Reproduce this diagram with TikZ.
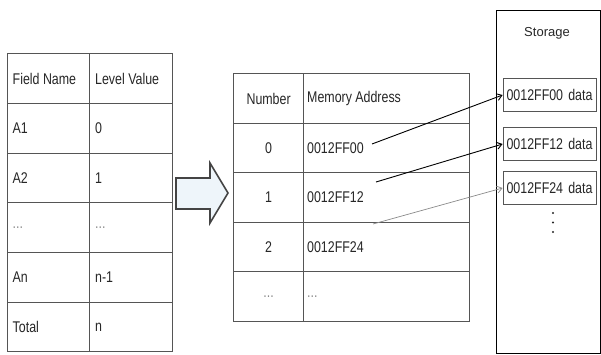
\documentclass[tikz,border=0pt]{standalone}
\usepackage{fontspec}
\setmainfont{Liberation Sans}[FakeStretch=0.8]
\newfontfamily\titlefont{Liberation Sans}
\usetikzlibrary{arrows.meta}
\definecolor{gridline}{HTML}{555555}
\definecolor{inktext}{HTML}{262626}
\definecolor{softtext}{HTML}{8A8A8A}
\definecolor{hollowfill}{HTML}{EEF5FA}
\tikzset{
  cell/.style={draw=gridline, line width=1.2pt, rectangle, inner sep=0pt, anchor=north west},
  txt/.style={font=\fontsize{15.5}{17}\selectfont, text=inktext, inner sep=0pt},
  lefttxt/.style={txt, anchor=west},
  dimtxt/.style={txt, text=softtext},
  databox/.style={draw=gridline, line width=0.8pt, rectangle, minimum width=93pt, minimum height=33pt, inner sep=0pt,
    font=\fontsize{15.5}{17}\selectfont, text=inktext},
  pointer/.style={line width=0.9pt, -{Straight Barb[length=5pt,width=7pt]}},
  dotmark/.style={circle, fill=inktext, inner sep=0pt, minimum size=2.4pt},
}
\begin{document}
\begin{tikzpicture}[x=1pt,y=-1pt]
\useasboundingbox (0,0) rectangle (601,354);

% ---- field / level table ----
\foreach \r/\ya/\yb in {0/53/103,1/103/153,2/153/202,3/202/252,4/252/302,5/302/351}{
  \node[cell, minimum width=82pt, minimum height={\yb-\ya}] (f\r) at (7,\ya) {};
  \node[cell, minimum width=83pt, minimum height={\yb-\ya}] (v\r) at (89,\ya) {};
}
\node[lefttxt] (tf0) at ([xshift=5.5pt]f0.west) {Field Name};
\node[lefttxt] (tv0) at ([xshift=6pt]v0.west) {Level Value};
\node[lefttxt] (tf1) at ([xshift=5.5pt]f1.west) {A1};
\node[lefttxt] (tv1) at ([xshift=6pt]v1.west) {0};
\node[lefttxt] (tf2) at ([xshift=5.5pt]f2.west) {A2};
\node[lefttxt] (tv2) at ([xshift=6pt]v2.west) {1};
\node[dimtxt, anchor=west] (tf3) at ([xshift=5.5pt]f3.west) {...};
\node[dimtxt, anchor=west] (tv3) at ([xshift=6pt]v3.west) {...};
\node[lefttxt] (tf4) at ([xshift=5.5pt]f4.west) {An};
\node[lefttxt] (tv4) at ([xshift=6pt]v4.west) {n-1};
\node[lefttxt] (tf5) at ([xshift=5.5pt]f5.west) {Total};
\node[lefttxt] (tv5) at ([xshift=6pt]v5.west) {n};

% ---- hollow block arrow ----
\draw[draw=gridline!80!black, line width=1.6pt, fill=hollowfill, line join=miter]
  (176,178) -- (210,178) -- (210,163) -- (228,193) -- (210,223) -- (210,209) -- (176,209) -- cycle;

% ---- number / address table ----
\foreach \r/\ya/\yb in {0/73/123,1/123/172,2/172/222,3/222/271,4/271/321}{
  \node[cell, minimum width=70pt, minimum height={\yb-\ya}] (n\r) at (233,\ya) {};
  \node[cell, minimum width=166pt, minimum height={\yb-\ya}] (m\r) at (303,\ya) {};
}
\node[txt] (tn0) at (n0.center) {Number};
\node[lefttxt] (tm0) at ([xshift=4pt]m0.west) {Memory Address};
\node[txt] (tn1) at (n1.center) {0};
\node[lefttxt] (tm1) at ([xshift=4pt]m1.west) {0012FF00};
\node[txt] (tn2) at (n2.center) {1};
\node[lefttxt] (tm2) at ([xshift=4pt]m2.west) {0012FF12};
\node[txt] (tn3) at (n3.center) {2};
\node[lefttxt] (tm3) at ([xshift=4pt]m3.west) {0012FF24};
\node[dimtxt] (tn4) at (n4.center) {...};
\node[dimtxt, anchor=west] (tm4) at ([xshift=4pt]m4.west) {...};

% ---- storage ----
\node[draw=black, line width=1.8pt, rectangle, minimum width=104pt, minimum height=343pt, inner sep=0pt, anchor=north west]
  (store) at (495.5,9.5) {};
\node[font=\titlefont\fontsize{13}{15}\selectfont, text=inktext] (storetitle) at (547,33) {Storage};
\node[databox] (d0) at (549.5,95) {0012FF00\,\,data};
\node[databox] (d1) at (549.5,144) {0012FF12\,\,data};
\node[databox] (d2) at (549.5,188) {0012FF24\,\,data};
% vertical ellipsis below the stored entries
\node[dotmark] (more0) at (553,213) {};
\node[dotmark] (more1) at (553,222.5) {};
\node[dotmark] (more2) at (553,232) {};

% ---- pointers from addresses to stored data ----
\coordinate (p0) at (372,144);
\coordinate (p1) at (376,182);
\coordinate (p2) at (373,224);
\draw[pointer] (p0) -- (d0.west);
\draw[pointer] (p1) -- (d1.west);
\draw[pointer, draw=softtext, line width=0.7pt] (p2) -- (d2.west);
\end{tikzpicture}
\end{document}
